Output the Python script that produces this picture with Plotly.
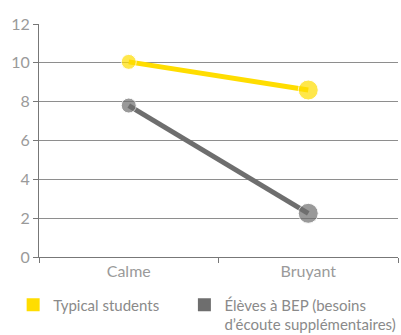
import plotly.graph_objects as go

categories = ["Calme", "Bruyant"]
typical = [10.05, 8.6]
bep = [7.8, 2.25]
marker_sizes = [15, 20]
series_names = ["Typical students", "Élèves à BEP (besoins<br>d’écoute supplémentaires)"]
y_ticks = [0, 2, 4, 6, 8, 10, 12]

YELLOW = "#FFDD00"
GREY = "#6E6E6E"
TEXT = "#9A9A9A"
FONT = "Lato, Open Sans, sans-serif"

fig = go.Figure()

for vals, color in [(typical, YELLOW), (bep, GREY)]:
    fig.add_trace(go.Scatter(
        x=categories, y=vals, mode="lines+markers",
        line=dict(color=color, width=5),
        marker=dict(color=color, size=marker_sizes),
        showlegend=False, hoverinfo="skip",
    ))

# square swatches, each in its own legend box
for name, color, leg in [(series_names[0], YELLOW, "legend"),
                         (series_names[1], GREY, "legend2")]:
    fig.add_trace(go.Scatter(
        x=[None], y=[None], mode="markers", name=name, legend=leg,
        marker=dict(color=color, size=13, symbol="square"),
    ))

legend_style = dict(
    xref="paper", yref="paper", xanchor="left", yanchor="top",
    valign="top", itemwidth=30, bgcolor="rgba(0,0,0,0)",
    font=dict(family=FONT, size=15, color="#8A8A8A"),
)

fig.update_layout(
    width=401, height=335,
    margin=dict(l=39, r=3, t=24, b=78, autoexpand=False),
    paper_bgcolor="white", plot_bgcolor="white",
    font=dict(family=FONT, size=16, color=TEXT),
    legend=dict(x=-0.072, y=-0.135, **legend_style),
    legend2=dict(x=0.405, y=-0.135, **legend_style),
)

fig.update_xaxes(
    type="category", range=[-0.5, 1.5],
    tickson="boundaries", ticks="outside", ticklen=5, tickcolor="#777777",
    showline=True, linecolor="#777777", linewidth=1,
    showgrid=False, tickfont=dict(size=16, color=TEXT),
)
fig.update_yaxes(
    range=[0, 12], tickvals=y_ticks,
    ticks="outside", ticklen=5, tickcolor="#777777",
    showline=True, linecolor="#777777", linewidth=1,
    showgrid=True, gridcolor="#8E8E8E", gridwidth=1,
    zeroline=False, tickfont=dict(size=16, color=TEXT),
)

fig.write_html("out.html")
